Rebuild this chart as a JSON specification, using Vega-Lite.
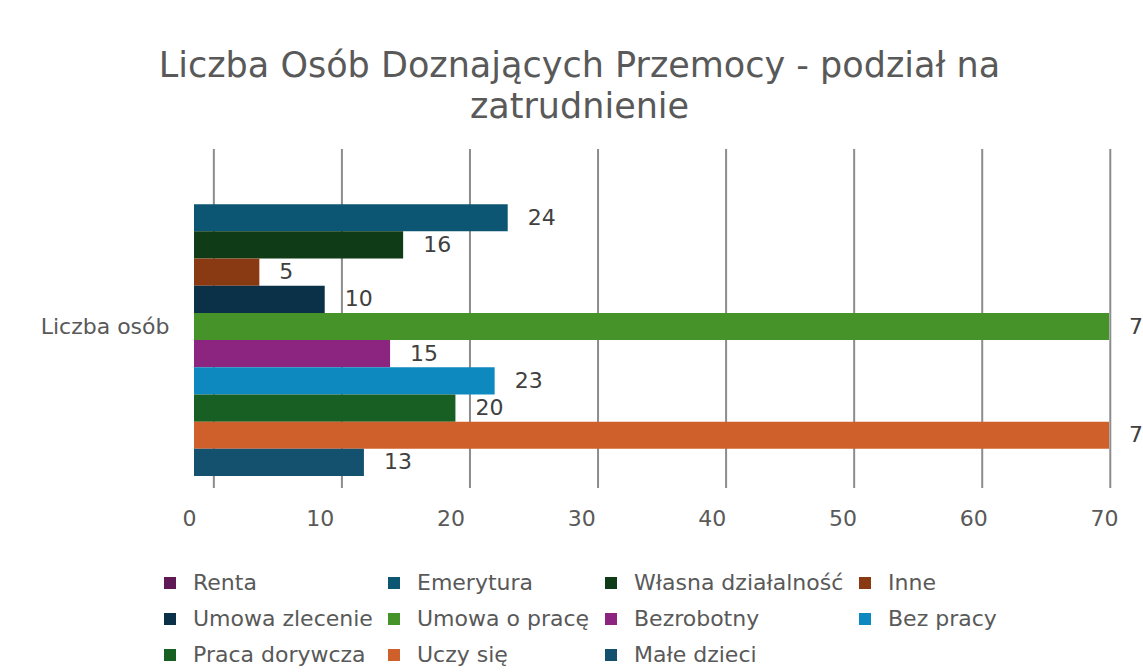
{
  "$schema": "https://vega.github.io/schema/vega-lite/v6.json",
  "width": 915,
  "height": 339,
  "padding": {"left": 40, "top": 49, "right": 5, "bottom": 5},
  "background": "white",
  "title": {
    "text": ["Liczba Osób Doznających Przemocy - podział na", "zatrudnienie"],
    "font": "DejaVu Sans",
    "fontSize": 35,
    "fontWeight": "normal",
    "color": "#595959",
    "lineHeight": 41,
    "anchor": "middle",
    "dx": -72,
    "offset": 23
  },
  "datasets": {
    "bars": [
      {"kategoria": "Liczba osób", "zatrudnienie": "Renta", "liczba": 0},
      {"kategoria": "Liczba osób", "zatrudnienie": "Emerytura", "liczba": 24},
      {"kategoria": "Liczba osób", "zatrudnienie": "Własna działalność", "liczba": 16},
      {"kategoria": "Liczba osób", "zatrudnienie": "Inne", "liczba": 5},
      {"kategoria": "Liczba osób", "zatrudnienie": "Umowa zlecenie", "liczba": 10},
      {"kategoria": "Liczba osób", "zatrudnienie": "Umowa o pracę", "liczba": 77},
      {"kategoria": "Liczba osób", "zatrudnienie": "Bezrobotny", "liczba": 15},
      {"kategoria": "Liczba osób", "zatrudnienie": "Bez pracy", "liczba": 23},
      {"kategoria": "Liczba osób", "zatrudnienie": "Praca dorywcza", "liczba": 20},
      {"kategoria": "Liczba osób", "zatrudnienie": "Uczy się", "liczba": 74},
      {"kategoria": "Liczba osób", "zatrudnienie": "Małe dzieci", "liczba": 13}
    ],
    "grid": [
      {"wartosc": 0}, {"wartosc": 10}, {"wartosc": 20}, {"wartosc": 30},
      {"wartosc": 40}, {"wartosc": 50}, {"wartosc": 60}, {"wartosc": 70}
    ]
  },
  "layer": [
    {
      "data": {"name": "grid"},
      "mark": {"type": "rule", "color": "#8c8c8c", "strokeWidth": 2},
      "encoding": {
        "x": {"field": "wartosc", "type": "quantitative", "scale": {"domain": [-1.55, 69.9], "nice": false, "zero": false}, "axis": null}
      }
    },
    {
      "data": {"name": "bars"},
      "layer": [
        {
          "mark": {"type": "bar"},
          "encoding": {
            "y": {"field": "kategoria", "type": "nominal", "title": null,
              "scale": {"paddingInner": 0, "paddingOuter": 0.0669, "align": 0.7},
              "axis": {"domain": false, "ticks": false, "labelFont": "DejaVu Sans", "labelFontSize": 22, "labelColor": "#595959", "labelPadding": 25}},
            "yOffset": {"field": "zatrudnienie", "type": "nominal",
              "sort": ["Renta", "Emerytura", "Własna działalność", "Inne", "Umowa zlecenie", "Umowa o pracę", "Bezrobotny", "Bez pracy", "Praca dorywcza", "Uczy się", "Małe dzieci"],
              "scale": {"paddingInner": 0, "paddingOuter": 0}},
            "x": {"field": "liczba", "type": "quantitative", "title": null,
              "scale": {"domain": [0, 70], "nice": false, "clamp": true},
              "axis": {"grid": false, "domain": false, "ticks": false, "values": [0, 10, 20, 30, 40, 50, 60, 70], "labelFlush": false, "labelOffset": -5, "labelFont": "DejaVu Sans", "labelFontSize": 22, "labelColor": "#595959", "labelPadding": 20}},
            "color": {"field": "zatrudnienie", "type": "nominal", "title": null,
              "sort": ["Renta", "Emerytura", "Własna działalność", "Inne", "Umowa zlecenie", "Umowa o pracę", "Bezrobotny", "Bez pracy", "Praca dorywcza", "Uczy się", "Małe dzieci"],
              "scale": {
                "domain": ["Renta", "Emerytura", "Własna działalność", "Inne", "Umowa zlecenie", "Umowa o pracę", "Bezrobotny", "Bez pracy", "Praca dorywcza", "Uczy się", "Małe dzieci"],
                "range": ["#5f1a55", "#0c5573", "#0f3b16", "#8a3a12", "#0b3148", "#46932a", "#8b2580", "#0e89bf", "#175f23", "#d0602b", "#14516f"]
              },
              "legend": {
                "orient": "none", "legendX": -35, "legendY": 423,
                "direction": "horizontal", "columns": 4, "columnPadding": 10, "rowPadding": 14,
                "symbolType": "square", "symbolSize": 144, "symbolStrokeWidth": 0,
                "labelFont": "DejaVu Sans", "labelFontSize": 22, "labelColor": "#595959", "labelOffset": 12,
                "labelLimit": 400, "padding": 0
              }
            }
          }
        },
        {
          "transform": [{"filter": "datum.liczba > 0"}],
          "mark": {"type": "text", "align": "left", "baseline": "middle", "dx": 20, "font": "DejaVu Sans", "fontSize": 22, "color": "#404040"},
          "encoding": {
            "y": {"field": "kategoria", "type": "nominal"},
            "yOffset": {"field": "zatrudnienie", "type": "nominal",
              "sort": ["Renta", "Emerytura", "Własna działalność", "Inne", "Umowa zlecenie", "Umowa o pracę", "Bezrobotny", "Bez pracy", "Praca dorywcza", "Uczy się", "Małe dzieci"]},
            "x": {"field": "liczba", "type": "quantitative"},
            "text": {"field": "liczba", "type": "quantitative"}
          }
        }
      ]
    }
  ],
  "resolve": {"scale": {"x": "independent"}},
  "config": {"view": {"stroke": null}}
}
